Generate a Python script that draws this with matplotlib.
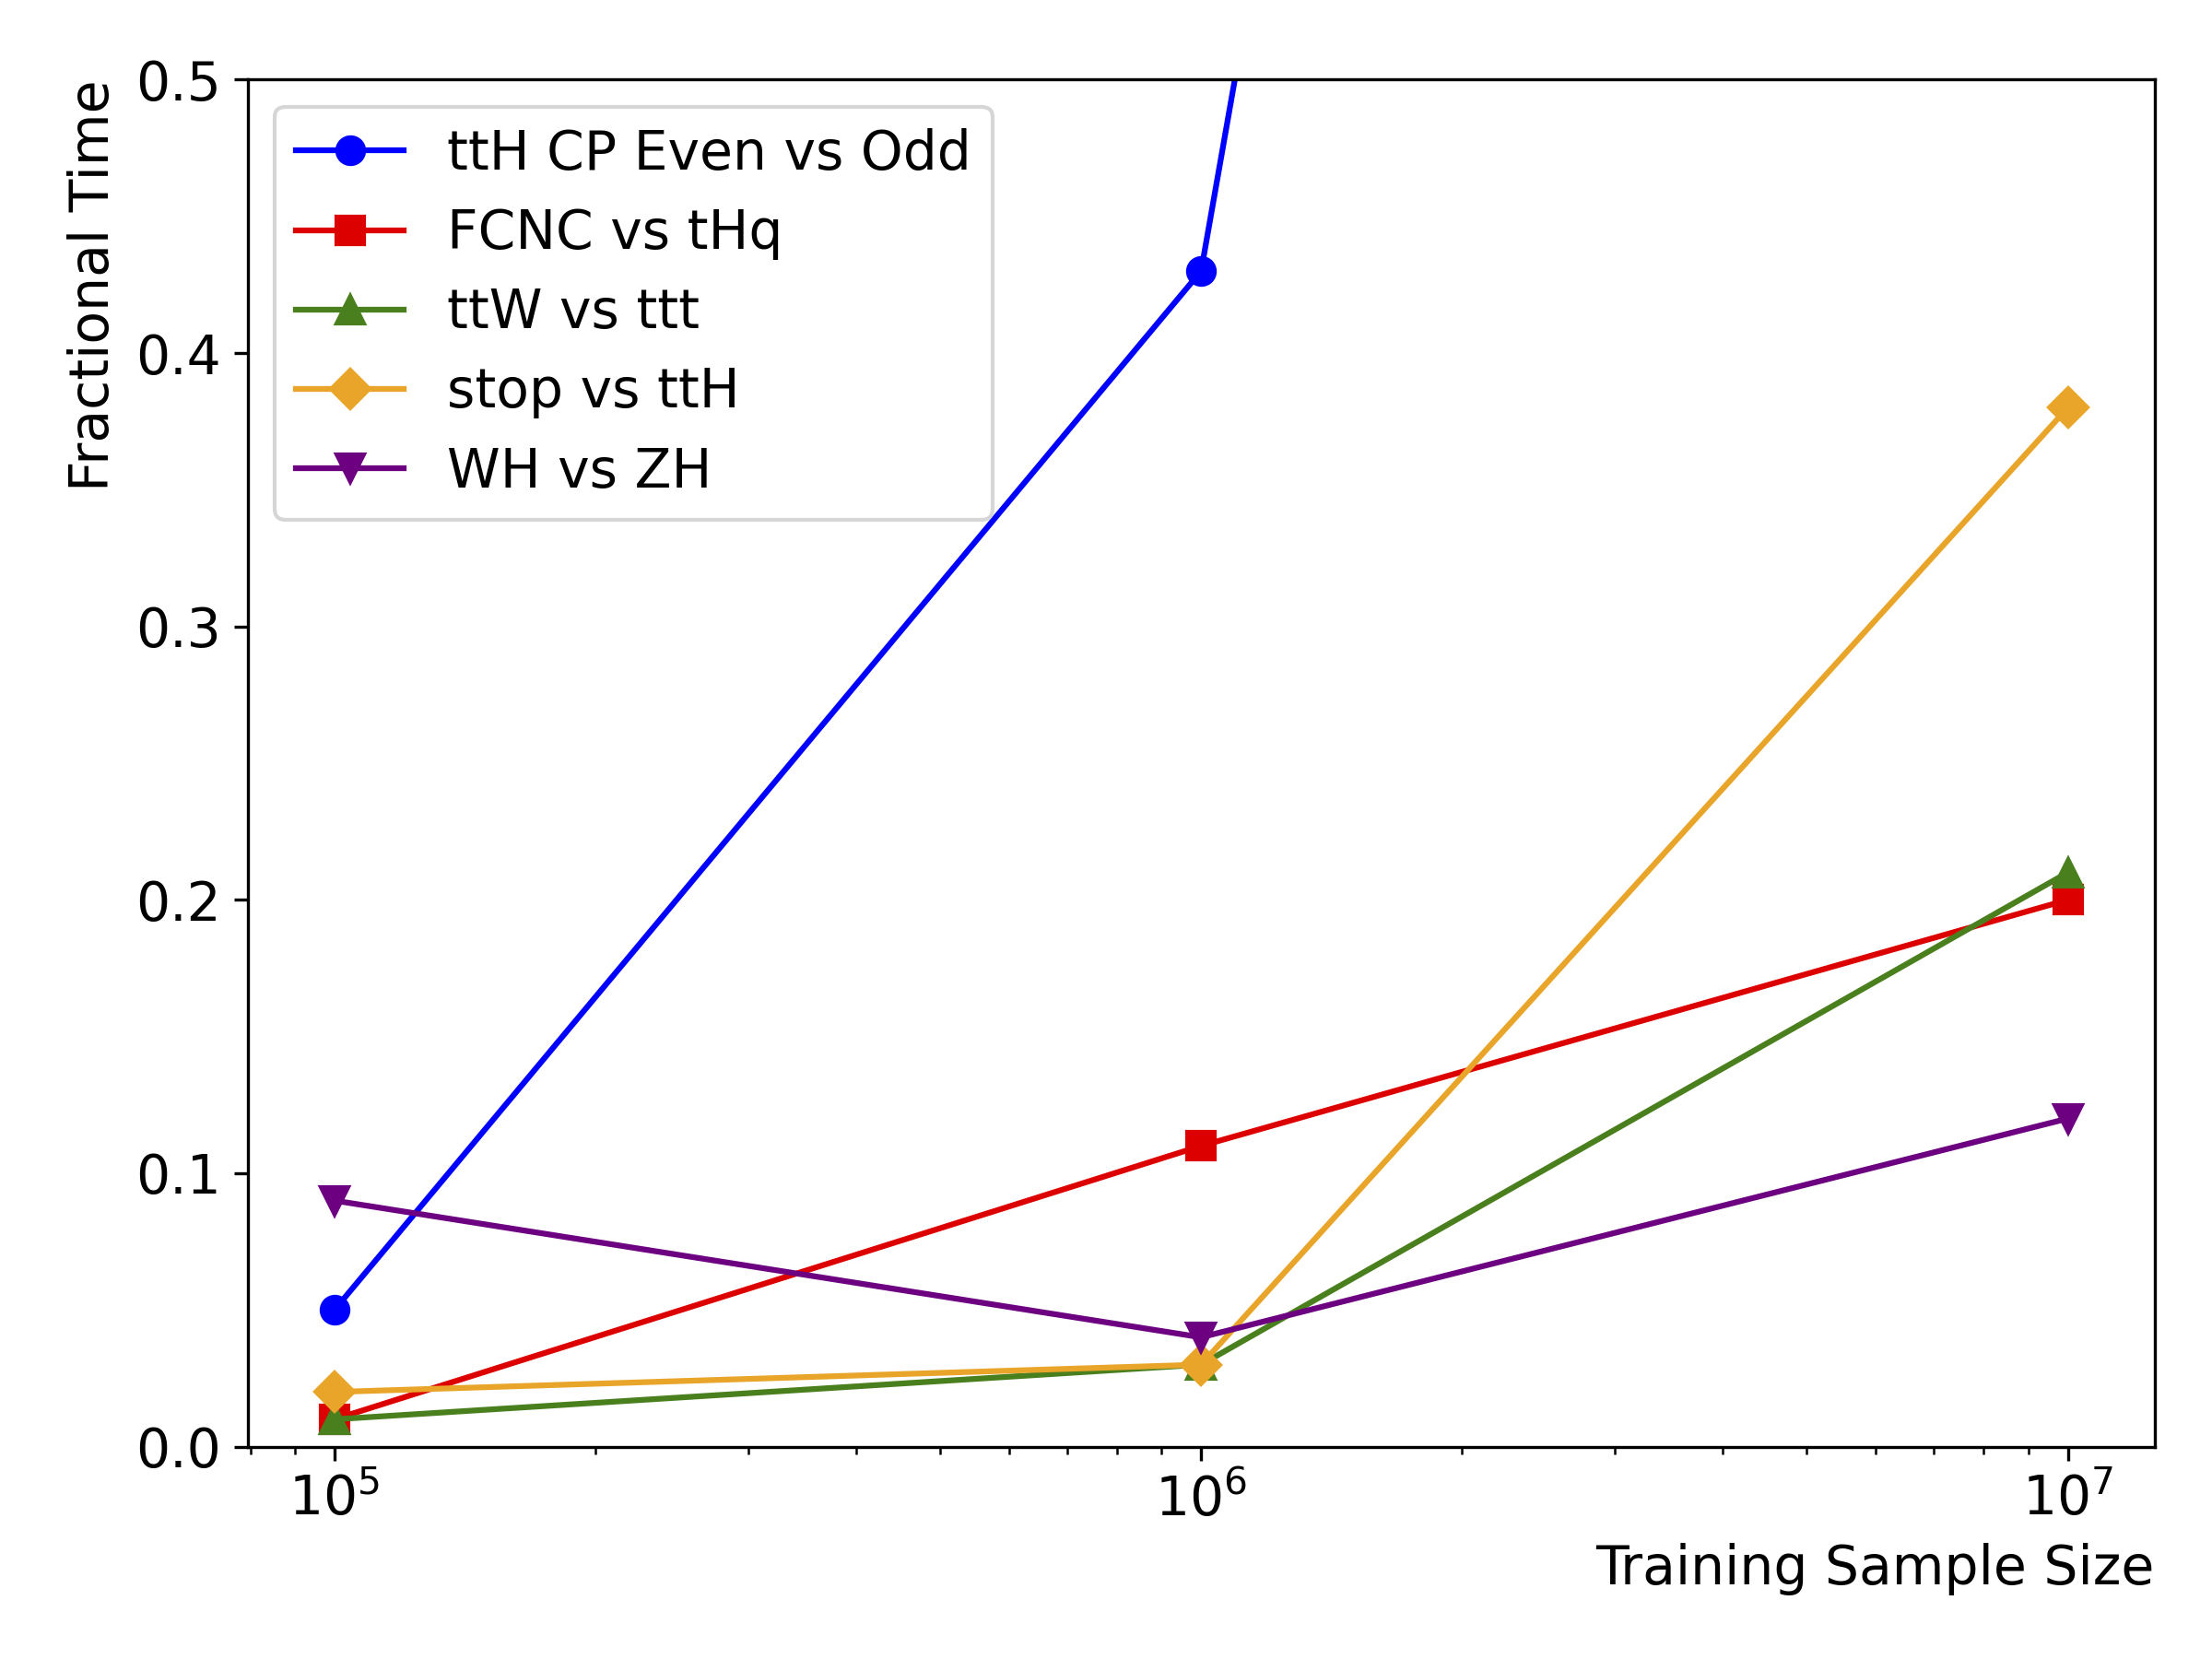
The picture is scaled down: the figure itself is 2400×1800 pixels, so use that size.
import matplotlib
matplotlib.use("Agg")
import matplotlib.pyplot as plt

# training sample sizes
sizes = [1e5, 1e6, 1e7]

# fractional time per analysis
ttH_cp = [0.05, 0.43, 2.23]
fcnc = [0.01, 0.11, 0.20]
ttw = [0.01, 0.03, 0.21]
stop = [0.02, 0.03, 0.38]
wh = [0.09, 0.04, 0.12]

labels = ["ttH CP Even vs Odd", "FCNC vs tHq", "ttW vs ttt", "stop vs ttH", "WH vs ZH"]

fig, ax = plt.subplots(figsize=(8, 6), dpi=300)
fig.subplots_adjust(left=0.112, right=0.974, top=0.952, bottom=0.128)

ax.plot(sizes, ttH_cp, marker='o', markersize=7, color='blue', label=labels[0])
ax.plot(sizes, fcnc, marker='s', markersize=7, color='#dd0000', label=labels[1])
ax.plot(sizes, ttw, marker='^', markersize=7, color='#4a7f1e', label=labels[2])
ax.plot(sizes, stop, marker='D', markersize=7, color='#e9a529', label=labels[3])
ax.plot(sizes, wh, marker='v', markersize=7, color='#6c0080', label=labels[4])

ax.set_xscale('log')
ax.set_ylim(0, 0.5)
ax.set_xlabel('Training Sample Size', fontsize=14, loc='right')
ax.set_ylabel('Fractional Time', fontsize=14, loc='top')
ax.tick_params(axis='both', labelsize=14)
ax.legend(loc='upper left', fontsize=14)

plt.savefig('out.png')
